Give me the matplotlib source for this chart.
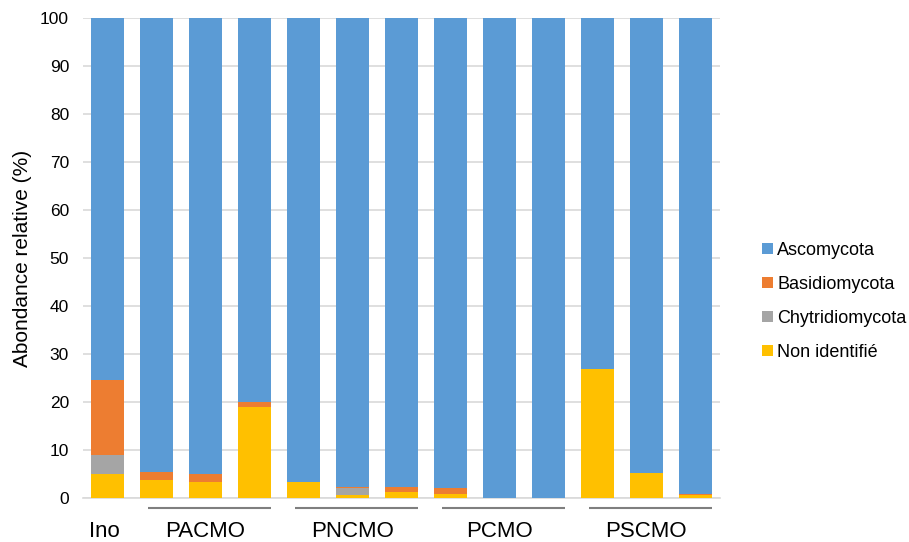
import matplotlib.pyplot as plt
import numpy as np

plt.rcParams['font.family'] = ['Liberation Sans', 'DejaVu Sans']

# relative abundance (%) per sample, bottom to top
samples = ["Ino", "PACMO1", "PACMO2", "PACMO3", "PNCMO1", "PNCMO2", "PNCMO3",
           "PCMO1", "PCMO2", "PCMO3", "PSCMO1", "PSCMO2", "PSCMO3"]
non_identifie = [5.0, 3.7, 3.3, 18.9, 3.3, 0.7, 1.3, 0.9, 0.1, 0.1, 26.9, 5.2, 0.6]
chytridio = [3.9, 0.0, 0.0, 0.0, 0.0, 1.3, 0.0, 0.0, 0.0, 0.0, 0.0, 0.0, 0.0]
basidio = [15.6, 1.8, 1.7, 1.1, 0.0, 0.3, 0.9, 1.1, 0.0, 0.0, 0.0, 0.0, 0.3]
ascomyc = [100 - a - b - c for a, b, c in zip(non_identifie, chytridio, basidio)]

groups = ["PACMO", "PNCMO", "PCMO", "PSCMO"]
group_start = [1, 4, 7, 10]

colors = {"Ascomycota": "#5B9BD5", "Basidiomycota": "#ED7D31",
          "Chytridiomycota": "#A5A5A5", "Non identifié": "#FFC000"}

fig = plt.figure(figsize=(9.09, 5.42), dpi=100)
ax = fig.add_axes([0.0913, 0.0812, 0.7007, 0.8856])

x = np.arange(len(samples))
w = 0.667
bottom = np.zeros(len(samples))
series = [("Non identifié", non_identifie), ("Chytridiomycota", chytridio),
          ("Basidiomycota", basidio), ("Ascomycota", ascomyc)]
bars = {}
for name, vals in series:
    bars[name] = ax.bar(x, vals, w, bottom=bottom, color=colors[name], label=name, zorder=3)
    bottom += np.array(vals)

ax.set_xlim(-0.5, len(samples) - 0.5)
ax.set_ylim(0, 100)
ax.set_yticks(range(0, 101, 10))
ax.yaxis.grid(True, color="#D9D9D9", linewidth=1.2, zorder=0)
ax.tick_params(axis="y", length=0, labelsize=12.5, pad=10, colors="#000000")
ax.set_xticks([])
for s in ["top", "right", "left"]:
    ax.spines[s].set_visible(False)
ax.spines["bottom"].set_color("#D9D9D9")
ax.spines["bottom"].set_linewidth(1.2)
ax.set_ylabel("Abondance relative (%)", fontsize=15, labelpad=6)

# category labels under the axis
ax.text(-0.07, -7.0, "Ino", ha="center", va="center", fontsize=16, clip_on=False)
for g, s in zip(groups, group_start):
    ax.plot([s - 0.17, s + 2.33], [-2.0, -2.0], color="#7F7F7F", linewidth=1.5,
            clip_on=False, solid_capstyle="butt")
    ax.text(s + 1, -7.0, g, ha="center", va="center", fontsize=16, clip_on=False)

handles = [bars[n] for n in ["Ascomycota", "Basidiomycota", "Chytridiomycota", "Non identifié"]]
fig.legend(handles, [h.get_label() for h in handles], loc="center left",
           bbox_to_anchor=(0.828, 0.444), frameon=False, fontsize=13, borderpad=0,
           handlelength=0.6, handleheight=0.6, handletextpad=0.25, labelspacing=0.95)

plt.savefig("out.png", dpi=100)
